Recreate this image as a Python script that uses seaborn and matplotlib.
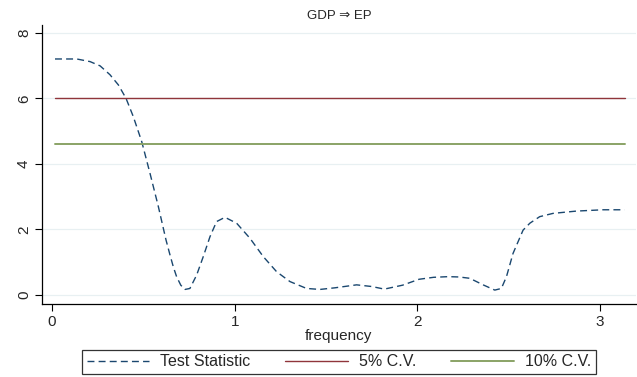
import numpy as np
import pandas as pd
import matplotlib
matplotlib.use("Agg")
import matplotlib.pyplot as plt
import seaborn as sns

# values
freq = [0.016, 0.135, 0.208, 0.263, 0.317, 0.363, 0.405, 0.445, 0.491, 0.536, 0.582,
        0.624, 0.646, 0.664, 0.682, 0.705, 0.728, 0.755, 0.792, 0.828, 0.865, 0.901,
        0.947, 1.011, 1.084, 1.157, 1.230, 1.303, 1.394, 1.467, 1.55, 1.668, 1.75,
        1.82, 1.92, 2.01, 2.09, 2.17, 2.23, 2.288, 2.361, 2.425, 2.461, 2.489, 2.525,
        2.58, 2.617, 2.671, 2.744, 2.872, 3.018, 3.136]
test_stat = [7.2, 7.2, 7.12, 6.99, 6.72, 6.41, 6.0, 5.44, 4.68, 3.72, 2.70,
             1.68, 1.22, 0.86, 0.56, 0.3, 0.17, 0.2, 0.61, 1.17, 1.78, 2.24,
             2.37, 2.19, 1.73, 1.17, 0.71, 0.41, 0.20, 0.17, 0.22, 0.31, 0.26,
             0.18, 0.3, 0.48, 0.54, 0.56, 0.55, 0.51, 0.31, 0.15, 0.2, 0.56, 1.27,
             1.98, 2.19, 2.39, 2.49, 2.56, 2.6, 2.6]
cv5 = 6.0
cv10 = 4.6
freq_lo, freq_hi = 0.016, 3.136

navy = "#1a476f"
maroon = "#90353b"
green = "#8aa366"

sns.set_style("white")
plt.rcParams["font.family"] = ["Liberation Sans", "DejaVu Sans"]

df = pd.DataFrame({"frequency": freq, "stat": test_stat})

fig = plt.figure(figsize=(6.37, 3.77), dpi=100)
ax = fig.add_axes([0.066, 0.194, 0.932, 0.74])

for v in [0, 2, 4, 6, 8]:
    ax.axhline(v, color="#e8f0f2", lw=0.9, zorder=0)

sns.lineplot(data=df, x="frequency", y="stat", ax=ax, color=navy, lw=1.0,
             label="Test Statistic")
ax.lines[-1].set_dashes([5, 3])
ax.plot([freq_lo, freq_hi], [cv5, cv5], color=maroon, lw=1.0, label="5% C.V.")
ax.plot([freq_lo, freq_hi], [cv10, cv10], color=green, lw=1.4, label="10% C.V.")

ax.set_xlim(-0.055, 3.197)
ax.set_ylim(-0.27, 8.24)
ax.set_xticks([0, 1, 2, 3])
ax.set_yticks([0, 2, 4, 6, 8])
ax.tick_params(axis="both", direction="out", length=5, width=0.8, color="black",
               labelsize=11, left=True, bottom=True, pad=3)
for lbl in ax.get_yticklabels():
    lbl.set_rotation(90)
    lbl.set_va("center")
ax.spines["top"].set_visible(False)
ax.spines["right"].set_visible(False)
for s in ["left", "bottom"]:
    ax.spines[s].set_color("black")
    ax.spines[s].set_linewidth(0.9)

ax.set_xlabel("frequency", fontsize=11, labelpad=0)
ax.set_ylabel("")
ax.set_title("GDP \u21d2 EP", fontsize=9.5, pad=4)

handles, labels = ax.get_legend_handles_labels()
ax.get_legend().remove()
leg = fig.legend(handles, labels, loc="center", bbox_to_anchor=(0.532, 0.04), ncol=3,
                 frameon=True, fancybox=False, fontsize=11.5, handlelength=3.9,
                 columnspacing=2.2, borderpad=0.3, handletextpad=0.7,
                 borderaxespad=0)
leg.get_frame().set_edgecolor("black")
leg.get_frame().set_linewidth(0.9)

fig.savefig("out.png", dpi=100)
